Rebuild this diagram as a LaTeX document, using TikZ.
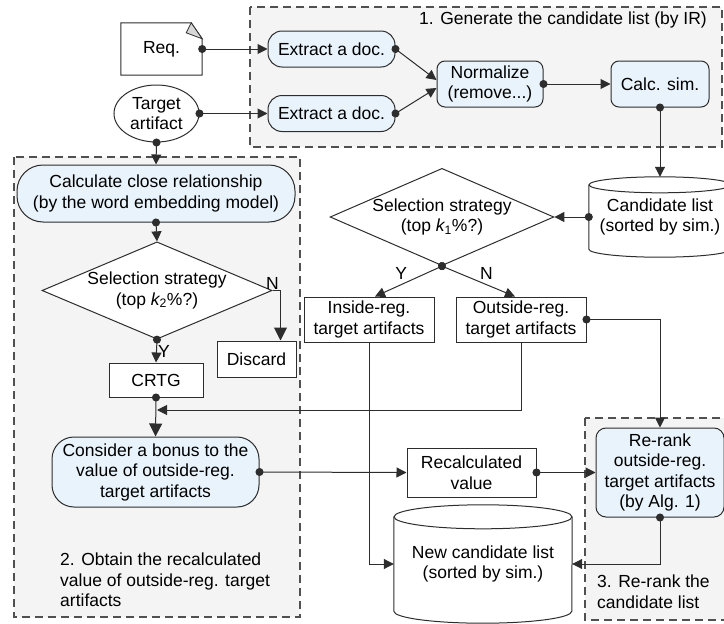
\documentclass[tikz,border=0pt]{standalone}
\usepackage{fontspec}
\setmainfont{Liberation Sans}
\usetikzlibrary{shapes.geometric,arrows.meta}

\definecolor{stepfill}{RGB}{233,243,251}
\definecolor{regionfill}{RGB}{244,244,244}
\definecolor{linegray}{RGB}{45,45,45}
\definecolor{dashgray}{RGB}{80,80,80}
\definecolor{foldgray}{RGB}{215,215,215}

\tikzset{
  every node/.style={font=\fontsize{17.5}{20.5}\selectfont, align=center, inner sep=1pt},
  region/.style={draw=dashgray, fill=regionfill, line width=1.2pt, dash pattern=on 8pt off 5pt},
  proc/.style={draw=linegray, fill=stepfill, line width=1pt, rounded corners=#1},
  proc/.default=8pt,
  plainbox/.style={draw=linegray, fill=white, line width=1pt},
  outline/.style={draw=linegray, line width=1pt},
  decide/.style={diamond, draw=linegray, fill=white, line width=1pt, aspect=2.3, inner sep=0pt},
  flow/.style={line width=1pt, draw=linegray, shorten <=-4pt,
    {Circle[length=8pt]}-{Triangle[length=10pt,width=10pt]}},
  bigflow/.style={line width=1pt, draw=linegray, shorten <=-4pt,
    {Circle[length=8pt]}-{Triangle[length=13pt,width=13pt]}},
  pass/.style={line width=1pt, draw=linegray, -{Triangle[length=10pt,width=10pt]}},
  bigpass/.style={line width=1pt, draw=linegray, -{Triangle[length=13pt,width=13pt]}},
}

\begin{document}
\begin{tikzpicture}[x=1pt,y=-1pt]
\useasboundingbox (0,0) rectangle (724,624);

\draw[region] (250,7) rectangle (722,147);
\draw[region] (14,157) rectangle (300,617);
\draw[region] (585,418) rectangle (730,620);

\node[anchor=east] (title1) at (708,20) {1. Generate the candidate list (by IR)};
\node[anchor=north west, align=left] (title2) at (59,552) {2. Obtain the recalculated\\value of outside-reg. target\\artifacts};
\node[anchor=north west, align=left] (title3) at (596,574) {3. Re-rank the\\candidate list};

\node[minimum width=81pt, minimum height=52pt] (req) at (161.5,49) {Req.};
\draw[outline] (req.north west) -- ([xshift=-11pt]req.north east) -- ([yshift=-16pt]req.north east)
  -- (req.south east) -- (req.south west) -- cycle;
\draw[line width=0.8pt, draw=linegray, fill=foldgray] ([xshift=-11pt]req.north east)
  -- ([yshift=-16pt]req.north east) -- ([xshift=-16pt,yshift=-10pt]req.north east) -- cycle;
\node[ellipse, plainbox, minimum width=85pt, minimum height=57pt, inner sep=0pt] (target) at (156.5,113.5) {Target\\artifact};

\node[proc=14pt, minimum width=127pt, minimum height=36pt] (ex1) at (331.5,49) {Extract a doc.};
\node[proc=14pt, minimum width=127pt, minimum height=36pt] (ex2) at (331.5,113.5) {Extract a doc.};
\node[proc, minimum width=106pt, minimum height=46pt] (norm) at (490,84) {Normalize\\(remove...)};
\node[proc, minimum width=98pt, minimum height=46pt] (calc) at (660,84) {Calc. sim.};

\node[minimum width=142pt, minimum height=80pt] (cand) at (660,217) {Candidate list\\(sorted by sim.)};
\draw[outline] ([yshift=-8pt]cand.north west) -- ([yshift=8pt]cand.south west)
  arc[start angle=180, end angle=360, x radius=71pt, y radius=8pt] -- ([yshift=-8pt]cand.north east);
\draw[outline] ([yshift=-8pt]cand.north) ellipse [x radius=71pt, y radius=8pt];

\node[decide, minimum width=217pt, minimum height=95pt] (sel1) at (442,217) {Selection strategy\\(top {\itshape k}\textsubscript{1}\%?)};
\node[plainbox, minimum width=130pt, minimum height=45pt] (inside) at (369,319.5) {Inside-reg.\\target artifacts};
\node[plainbox, minimum width=130pt, minimum height=45pt] (outside) at (521,319.5) {Outside-reg.\\target artifacts};

\node[proc=26pt, minimum width=278pt, minimum height=57pt] (calcclose) at (156,193.5) {Calculate close relationship\\(by the word embedding model)};
\node[decide, minimum width=230pt, minimum height=95pt] (sel2) at (157,290.5) {Selection strategy\\(top {\itshape k}\textsubscript{2}\%?)};
\node[plainbox, minimum width=79pt, minimum height=36pt] (discard) at (256.5,359) {Discard};
\node[plainbox, minimum width=94pt, minimum height=34pt] (crtg) at (156,380) {CRTG};
\node[proc=22pt, minimum width=207pt, minimum height=70pt] (consider) at (155.5,472) {Consider a bonus to the\\value of outside-reg.\\target artifacts};
\node[plainbox, minimum width=129pt, minimum height=49pt] (recalc) at (471.5,472.5) {Recalculated\\value};
\node[proc=10pt, minimum width=128pt, minimum height=89pt] (rerank) at (660,472.5) {Re-rank\\outside-reg.\\target artifacts\\(by Alg. 1)};

\node[minimum width=178pt, minimum height=118pt] (newlist) at (483,564) {New candidate list\\(sorted by sim.)};
\draw[outline] ([yshift=-12pt]newlist.north west) -- ([yshift=12pt]newlist.south west)
  arc[start angle=180, end angle=360, x radius=89pt, y radius=12pt] -- ([yshift=-12pt]newlist.north east);
\draw[outline] ([yshift=-12pt]newlist.north) ellipse [x radius=89pt, y radius=12pt];

\coordinate (merge) at (157,410);

\draw[flow] (req.east) -- (ex1.west);
\draw[flow] (target.east) -- (ex2.west);
\draw[flow] (target.south) -- (calcclose.north);
\draw[flow] (ex1.east) -- ([yshift=4pt]norm.west);
\draw[flow] (ex2.east) -- ([yshift=-4pt]norm.west);
\draw[flow] (norm.east) -- (calc.west);
\draw[flow] (calc.south) -- (cand.north);
\draw[flow] (cand.west) -- (sel1.east);
\draw[flow] (sel1.south) -- ([xshift=6pt]inside.north) node[pos=0.5, above left] (y1) {Y};
\draw[flow] (sel1.south) -- ([xshift=-6pt]outside.north) node[pos=0.5, above right] (n1) {N};
\draw[pass] (inside.south) |- (newlist.west);
\draw[pass] (outside.south) |- (merge);
\draw[flow] (outside.east) -| (rerank.north);
\draw[flow] (calcclose.south) -- (sel2.north);
\draw[flow] (sel2.south) -- (crtg.north) node[pos=0.5, right] (y2) {Y};
\draw[bigpass] (sel2.east) -| ([xshift=24pt]discard.north);
\node[anchor=south] (n2) at (sel2.east) {N};
\draw[bigflow] (crtg.south) -- (consider.north);
\draw[flow] (consider.east) -- (recalc.west);
\draw[flow] (recalc.east) -- (rerank.west);
\draw[flow] (rerank.south) |- (newlist.east);
\end{tikzpicture}
\end{document}
